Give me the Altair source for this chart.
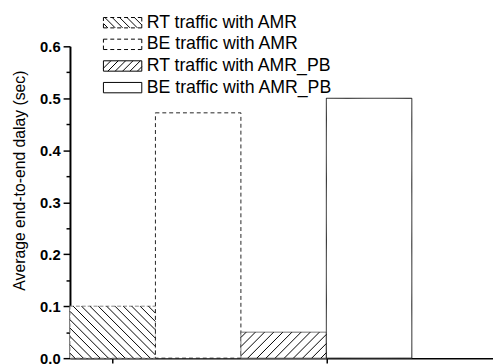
import altair as alt
import pandas as pd

# ---- data ----
series = ["RT traffic with AMR", "BE traffic with AMR",
          "RT traffic with AMR_PB", "BE traffic with AMR_PB"]
delays = [0.10, 0.472, 0.05, 0.50]
hatch_kind = ["\\", "", "/", ""]
y_tick_values = [round(0.05 * i, 2) for i in range(13)]
x_tick_values = [0.5, 3.0]

# ---- layout constants ----
W, H = 430, 317
X_MAX, Y_MAX = 4.95, 0.6
PXX = W / X_MAX
PXY = H / Y_MAX
FONT = "Liberation Sans"


def hatch_segments(w, h, step, kind):
    segs = []
    if kind == "\\":
        c = step * 0.6
        while c < w + h:
            u1, u2 = max(0.0, c - h), min(w, c)
            segs.append((u1, c - u1, u2, c - u2))
            c += step
    elif kind == "/":
        c = -w + step * 0.6
        while c < h:
            u1, u2 = max(0.0, -c), min(w, h - c)
            segs.append((u1, u1 + c, u2, u2 + c))
            c += step
    return segs


bars = pd.DataFrame({"series": series, "delay": delays})
bars["x0"] = list(range(len(series)))
bars["x1"] = bars["x0"] + 1

rows = []
for i, (v, k) in enumerate(zip(delays, hatch_kind)):
    step = 8.5 if k == "\\" else 9.3
    for u1, v1, u2, v2 in hatch_segments(PXX, v * PXY, step, k):
        rows.append({"hx0": i + u1 / PXX, "hy0": v1 / PXY,
                     "hx1": i + u2 / PXX, "hy1": v2 / PXY})
hatch_df = pd.DataFrame(rows)

# ---- legend symbols as custom paths (unit = 19.5 px) ----
R = 19.5
HH = 0.27


def f(n):
    return f"{n:.3f}"


def dashed(x1, y1, x2, y2, d=4 / R, g=3 / R):
    import math
    L = math.hypot(x2 - x1, y2 - y1)
    ux, uy = (x2 - x1) / L, (y2 - y1) / L
    out, t = [], 0.0
    while t < L:
        e = min(L, t + d)
        out.append(f"M{f(x1+ux*t)},{f(y1+uy*t)}L{f(x1+ux*e)},{f(y1+uy*e)}")
        t = e + g
    return "".join(out)


def legend_path(kind, dash):
    if dash:
        p = (dashed(-1, -HH, 1, -HH) + dashed(1, -HH, 1, HH) +
             dashed(1, HH, -1, HH) + dashed(-1, HH, -1, -HH))
    else:
        p = f"M-1,{f(-HH)}H1V{f(HH)}H-1Z"
    for u1, v1, u2, v2 in hatch_segments(2 * R, 2 * HH * R, 7.5, kind):
        p += (f"M{f(-1+u1/R)},{f(HH-v1/R)}L{f(-1+u2/R)},{f(HH-v2/R)}")
    return p


paths = [legend_path("\\", True), legend_path("", True),
         legend_path("/", False), legend_path("", False)]

legend_df = pd.DataFrame({"label": series})

# ---- scales and axes ----
xscale = alt.Scale(domain=[0, X_MAX], nice=False, zero=True)
yscale = alt.Scale(domain=[0, Y_MAX], nice=False, zero=True)
xaxis = alt.Axis(values=x_tick_values, labels=False, tickSize=5, tickWidth=1.5,
                 tickColor="black", domainColor="black", domainWidth=1.5,
                 grid=False, title=None)
yaxis = alt.Axis(values=y_tick_values,
                 labelExpr="round(datum.value*100) % 10 == 0 ? format(datum.value, '.1f') : ''",
                 tickSize={"condition": {"test": "round(datum.value*100) % 10 != 0", "value": 4},
                           "value": 7},
                 tickWidth=1.5, tickColor="black", domainColor="black", domainWidth=2,
                 labelFont=FONT, labelFontSize=15, labelFontWeight="bold",
                 labelColor="black", labelPadding=3, grid=False,
                 title="Average end-to-end dalay (sec)", titleFont=FONT,
                 titleFontSize=16, titleFontWeight="normal", titleColor="black",
                 titleX=-51, titleY=136, titleAngle=270, titleBaseline="middle",
                 titleAlign="center")


def X(field):
    return alt.X(field, type="quantitative", scale=xscale, axis=xaxis)


def Y(field):
    return alt.Y(field, type="quantitative", scale=yscale, axis=yaxis)


bar_layer = alt.Chart(bars).mark_bar(fill="white", strokeWidth=1).encode(
    x=X("x0"), x2="x1", y=Y("delay"), y2=alt.datum(0),
    stroke=alt.Stroke("series:N", scale=alt.Scale(domain=series,
                      range=["#888888", "#222222", "#666666", "#111111"]), legend=None),
    strokeDash=alt.StrokeDash("series:N", scale=alt.Scale(domain=series,
                              range=[[4, 2], [4, 3], [1, 0], [1, 0]]), legend=None),
)

hatch_layer = alt.Chart(hatch_df).mark_rule(color="black", strokeWidth=1).encode(
    x=X("hx0"), x2="hx1", y=Y("hy0"), y2="hy1"
)

plot = alt.layer(bar_layer, hatch_layer)

# ---- hand-built legend (rows on their own point scale) ----
ley = alt.Y("label:N", axis=None,
            scale=alt.Scale(type="point", domain=series, range=[-24, 42], padding=0))

legend_sym = alt.Chart(legend_df).mark_point(
    filled=False, size=1521, color="black", strokeWidth=1, opacity=1
).encode(
    x=alt.value(34 + R), y=ley,
    shape=alt.Shape("label:N", scale=alt.Scale(domain=series, range=paths), legend=None),
)

legend_txt = alt.Chart(legend_df).mark_text(
    align="left", baseline="middle", font=FONT, fontSize=18, color="black"
).encode(x=alt.value(78), y=ley, text="label:N")

chart = alt.layer(plot, legend_sym, legend_txt).resolve_scale(y="independent").properties(
    width=W, height=H,
    autosize=alt.AutoSizeParams(type="none"),
    padding={"left": 63, "top": 36, "right": 0, "bottom": 4},
    background="white",
).configure_view(stroke=None)

chart.save("out.html", embed_options={"renderer": "svg", "actions": False})
